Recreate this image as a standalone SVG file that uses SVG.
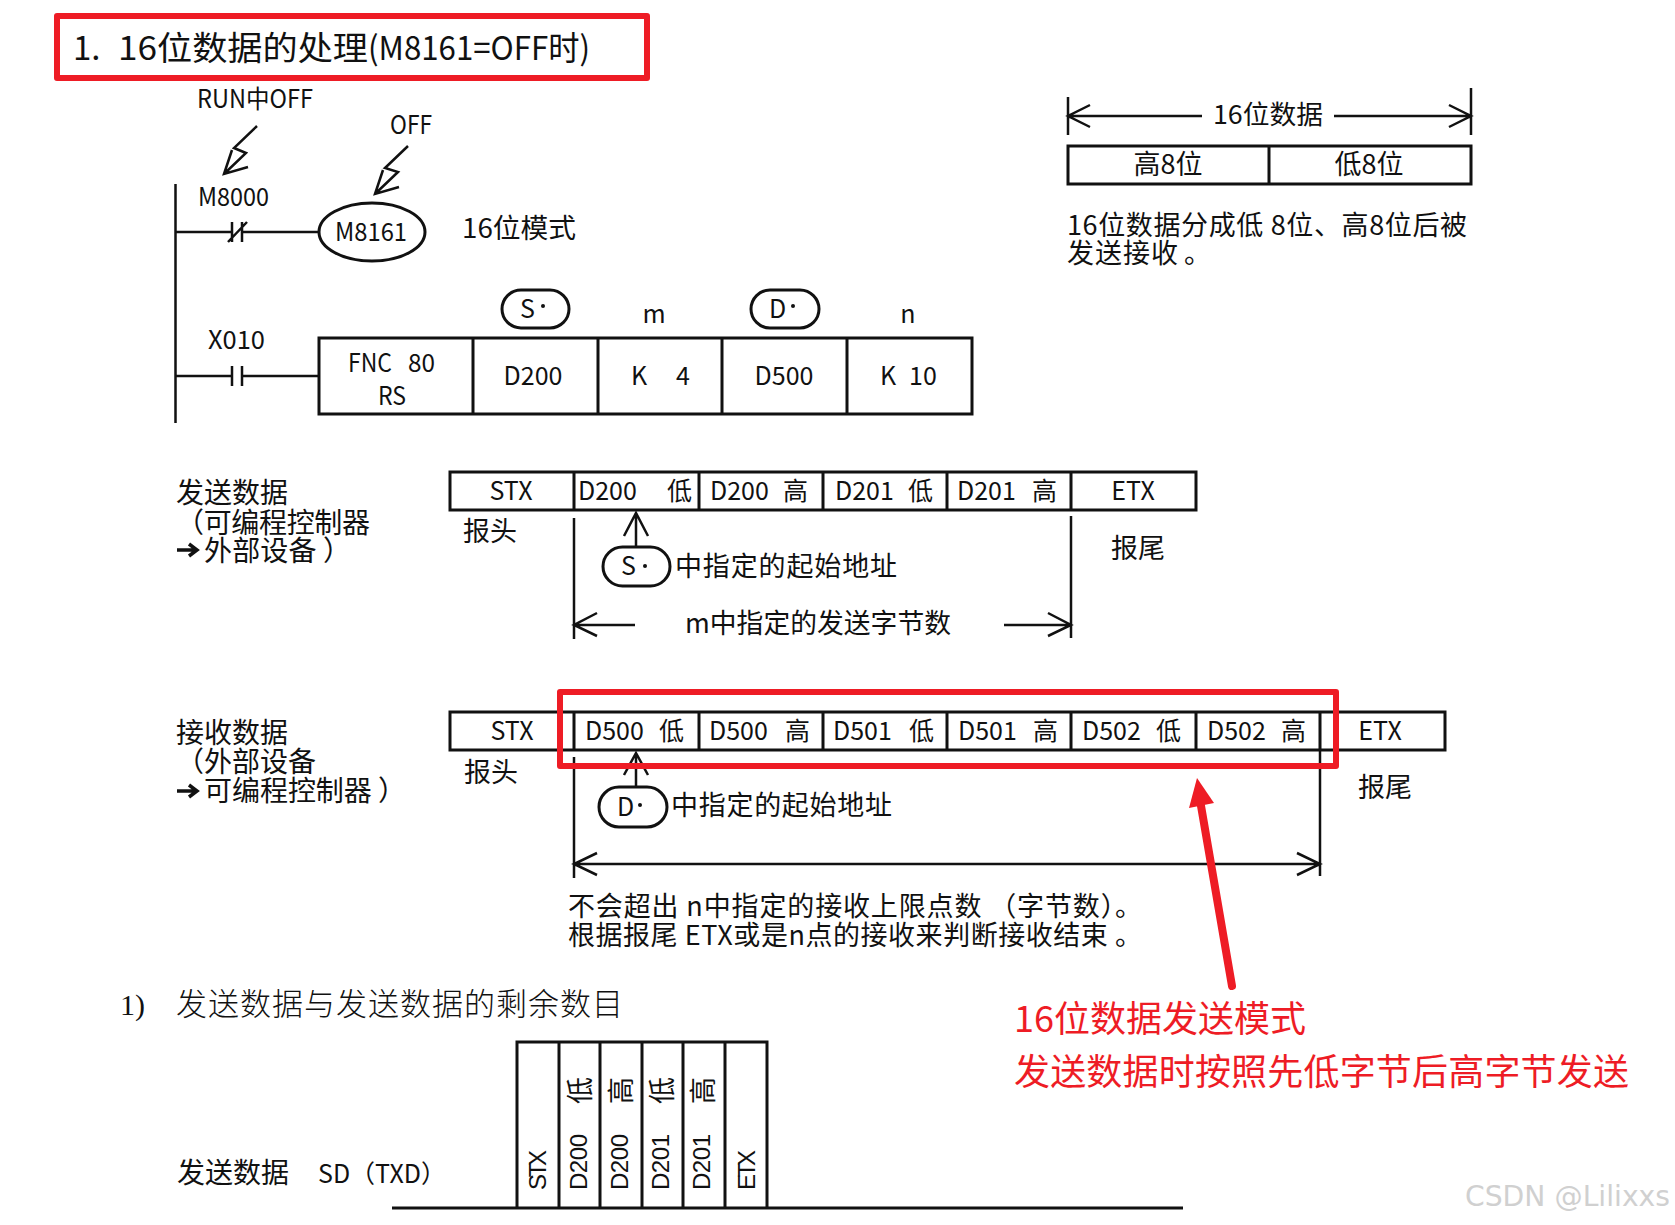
<svg xmlns="http://www.w3.org/2000/svg" width="1675" height="1225" viewBox="0 0 1675 1225">
<style>
text{font-family:"Noto Sans CJK SC","Liberation Sans",sans-serif;fill:#111;font-size:27px}
.l{font-size:25px}
.c{text-anchor:middle}
.box{fill:none;stroke:#111;stroke-width:3}
.ln{fill:none;stroke:#111;stroke-width:2.5}
.red{fill:none;stroke:#ee1c25;stroke-width:6;stroke-linejoin:round}
.rt{fill:#ee1c25;font-size:36px}
.ar{font-family:"Liberation Sans",sans-serif;font-size:24px}
.se{font-family:"Liberation Serif","Noto Sans CJK SC",serif;font-weight:300;font-size:31px}
.t{font-size:33px}
.b{font-size:28px}
.v{font-size:27px}
</style>
<rect width="1675" height="1225" fill="#fff"/>

<g id="title">
<rect class="red" x="57" y="16" width="590" height="62"/>
<text x="73" y="60" class="t">1.</text>
<text x="118" y="60" class="t" textLength="250" lengthAdjust="spacingAndGlyphs">16位数据的处理</text>
<text x="368" y="60" class="t" textLength="222" lengthAdjust="spacingAndGlyphs">(M8161=OFF时)</text>
</g>

<g id="connectors">
<path class="ln" d="M175.500 184V423M175 232H232M242 232H319M232 222V242M242 222V242M228 242L247 222M175 376H232M242 376H319M232 366V386M242 366V386"/>
<path class="ln" d="M257 126L234 148L246 153L224 174M232 150L224 174L248 167M408 146L385 168L398 172L375 194M383 170L375 194L399 187"/>
<path class="ln" d="M1068 97V135M1471 88V135M1202 116H1068M1090 105L1068 116L1090 127M1334 116H1471M1449 105L1471 116L1449 127"/>
<path class="ln" d="M574 518V639M1071 516V638M635 625H574M597 613L574 625L597 636M1004 625H1071M1048 613L1071 625L1048 636M636 547V513M624 536L636 513L648 536"/>
<path class="ln" d="M574 757V878M1320 750V876M574 864H1320M597 853L574 864L597 875M1297 853L1320 864L1297 875M636 788V753M624 775L636 753L648 775"/>
<path d="M392 1208H1183" fill="none" stroke="#111" stroke-width="3"/>
</g>

<g id="labels-top">
<text x="197" y="108" textLength="116" lengthAdjust="spacingAndGlyphs" class="l">RUN中OFF</text>
<text x="390" y="134" textLength="42" lengthAdjust="spacingAndGlyphs" class="l">OFF</text>
<text x="198" y="206" textLength="71" lengthAdjust="spacingAndGlyphs" class="l">M8000</text>
<text x="208" y="349" textLength="57" lengthAdjust="spacingAndGlyphs" class="l">X010</text>
<text x="462" y="238" textLength="114" lengthAdjust="spacingAndGlyphs">16位模式</text>
<text x="654" y="323" class="l c">m</text>
<text x="908" y="323" class="l c">n</text>
</g>

<g id="coil">
<ellipse class="box" cx="372" cy="232" rx="53" ry="29"/>
<text x="335" y="241" textLength="72" lengthAdjust="spacingAndGlyphs" class="l">M8161</text>
</g>

<g id="pill-s">
<rect class="box" x="502" y="290" width="67" height="38" rx="19"/>
<text x="520" y="318" class="l">S</text><circle cx="543" cy="306" r="2" fill="#111"/>
</g>
<g id="pill-d">
<rect class="box" x="751" y="290" width="68" height="38" rx="19"/>
<text x="769" y="318" class="l">D</text><circle cx="793" cy="306" r="2" fill="#111"/>
</g>

<g id="instruction">
<path class="box" d="M319 338H972V414H319ZM473 338V414M598 338V414M722 338V414M847 338V414"/>
<text x="348" y="372" textLength="44" lengthAdjust="spacingAndGlyphs" class="l">FNC</text>
<text x="408" y="372" textLength="27" lengthAdjust="spacingAndGlyphs" class="l">80</text>
<text x="392" y="405" class="l c" textLength="28" lengthAdjust="spacingAndGlyphs">RS</text>
<text x="533" y="385" class="l c">D200</text>
<text x="639" y="385" class="l c">K</text><text x="683" y="385" class="l c">4</text>
<text x="784" y="385" class="l c">D500</text>
<text x="888" y="385" class="l c">K</text><text x="923" y="385" class="l c">10</text>
</g>

<g id="word-16">
<text x="1213" y="124" textLength="110" lengthAdjust="spacingAndGlyphs" style="font-size:26px">16位数据</text>
<path class="box" d="M1068 146H1471V184H1068ZM1269 146V184"/>
<text x="1168" y="174" class="c">高8位</text>
<text x="1369" y="174" class="c">低8位</text>
<text x="1067" y="235" textLength="400" lengthAdjust="spacing">16位数据分成低 8位、高8位后被</text>
<text x="1067" y="263" textLength="111" lengthAdjust="spacing">发送接收</text>
<text x="1184" y="263">。</text>
</g>

<g id="send-label">
<text x="176" y="503" class="b">发送数据</text>
<text x="176" y="533" textLength="194" lengthAdjust="spacing" class="b">（可编程控制器</text>
<path d="M177 550H195M189 544L197 550L189 556" fill="none" stroke="#111" stroke-width="3.5"/>
<text x="204" y="561" textLength="147" lengthAdjust="spacing" class="b">外部设备 ）</text>
</g>
<g id="send-table">
<path class="box" d="M450 472H1196V510H450ZM574 472V510M699 472V510M823 472V510M947 472V510M1071 472V510"/>
<text x="511" y="500" class="l c">STX</text>
<text x="578" y="500" class="l">D200</text><text x="667" y="500" class="l">低</text>
<text x="710" y="500" class="l">D200</text><text x="783" y="500" class="l">高</text>
<text x="835" y="500" class="l">D201</text><text x="908" y="500" class="l">低</text>
<text x="957" y="500" class="l">D201</text><text x="1032" y="500" class="l">高</text>
<text x="1133" y="500" class="l c">ETX</text>
<text x="463" y="541">报头</text>
<text x="1111" y="558">报尾</text>
</g>
<g id="send-note">
<rect class="box" x="603" y="547" width="67" height="39" rx="19.500"/>
<text x="621" y="575" class="l">S</text><circle cx="645" cy="566" r="2" fill="#111"/>
<text x="675" y="576" textLength="222" lengthAdjust="spacing">中指定的起始地址</text>
<text x="685" y="633" textLength="266" lengthAdjust="spacingAndGlyphs">m中指定的发送字节数</text>
</g>

<g id="recv-label">
<text x="176" y="743" class="b">接收数据</text>
<text x="176" y="772" textLength="140" lengthAdjust="spacing" class="b">（外部设备</text>
<path d="M177 791H195M189 785L197 791L189 797" fill="none" stroke="#111" stroke-width="3.5"/>
<text x="204" y="801" textLength="202" lengthAdjust="spacing" class="b">可编程控制器 ）</text>
</g>
<g id="recv-table">
<path class="box" d="M450 712H1445V750H450ZM574 712V750M699 712V750M823 712V750M947 712V750M1071 712V750M1196 712V750M1320 712V750"/>
<text x="512" y="740" class="l c">STX</text>
<text x="585" y="740" class="l">D500</text><text x="659" y="740" class="l">低</text>
<text x="709" y="740" class="l">D500</text><text x="785" y="740" class="l">高</text>
<text x="833" y="740" class="l">D501</text><text x="909" y="740" class="l">低</text>
<text x="958" y="740" class="l">D501</text><text x="1033" y="740" class="l">高</text>
<text x="1082" y="740" class="l">D502</text><text x="1156" y="740" class="l">低</text>
<text x="1207" y="740" class="l">D502</text><text x="1281" y="740" class="l">高</text>
<text x="1380" y="740" class="l c">ETX</text>
<text x="464" y="782">报头</text>
<text x="1358" y="797">报尾</text>
</g>
<g id="recv-note">
<rect class="box" x="599" y="787" width="68" height="40" rx="20"/>
<text x="617" y="816" class="l">D</text><circle cx="640" cy="805" r="2" fill="#111"/>
<text x="671" y="815" textLength="221" lengthAdjust="spacing">中指定的起始地址</text>
<text x="568" y="916" textLength="574" lengthAdjust="spacing">不会超出 n中指定的接收上限点数 （字节数）。</text>
<text x="568" y="945" textLength="574" lengthAdjust="spacing">根据报尾 ETX或是n点的接收来判断接收结束 。</text>
</g>

<g id="timing">
<text x="120" y="1015" class="se" style="font-size:30px">1)</text>
<text x="176" y="1015" class="se" textLength="447" lengthAdjust="spacing">发送数据与发送数据的剩余数目</text>
<text x="177" y="1183" class="b">发送数据</text>
<text x="318" y="1183" textLength="128" lengthAdjust="spacingAndGlyphs" class="l">SD（TXD）</text>
<path class="box" d="M517 1208V1042H767V1208M559 1042V1208M600 1042V1208M642 1042V1208M683 1042V1208M725 1042V1208"/>
<text class="ar" transform="translate(546 1190) rotate(-90)" textLength="40">STX</text>
<text class="ar" transform="translate(587 1190) rotate(-90)" textLength="56">D200</text>
<text class="ar" transform="translate(628 1190) rotate(-90)" textLength="56">D200</text>
<text class="ar" transform="translate(669 1190) rotate(-90)" textLength="56">D201</text>
<text class="ar" transform="translate(710 1190) rotate(-90)" textLength="56">D201</text>
<text class="ar" transform="translate(755 1190) rotate(-90)" textLength="40">ETX</text>
<text transform="translate(590 1104) rotate(-90)" class="v">低</text>
<text transform="translate(631 1104) rotate(-90)" class="v">高</text>
<text transform="translate(672 1104) rotate(-90)" class="v">低</text>
<text transform="translate(713 1104) rotate(-90)" class="v">高</text>
</g>

<g id="annotation">
<rect class="red" x="560" y="692" width="776" height="74"/>
<path d="M1232 986L1200 800" fill="none" stroke="#ee1c25" stroke-width="8" stroke-linecap="round"/>
<path d="M1197 778L1189 808L1214 803Z" fill="#ee1c25"/>
<text x="1014" y="1032" class="rt" textLength="292" lengthAdjust="spacing">16位数据发送模式</text>
<text x="1014" y="1085" class="rt" textLength="615" lengthAdjust="spacing">发送数据时按照先低字节后高字节发送</text>
</g>

<text x="1465" y="1206" style="font-family:'DejaVu Sans','Liberation Sans',sans-serif;font-size:28px;fill:#d0d0d0" textLength="205" lengthAdjust="spacingAndGlyphs">CSDN @Lilixxs</text>
</svg>
